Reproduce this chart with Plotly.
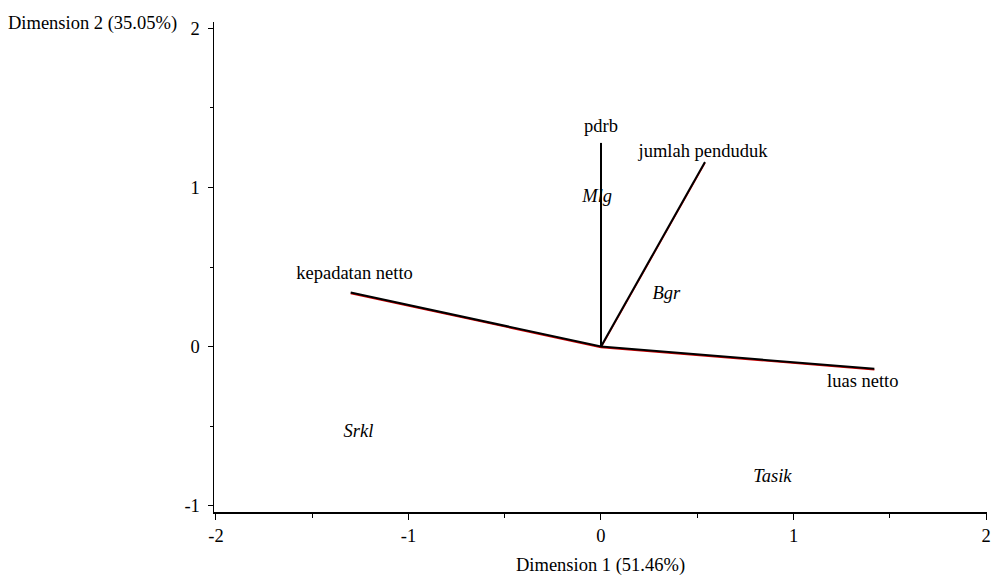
import plotly.graph_objects as go

# Variable vectors (loadings)
var_names = ["pdrb", "jumlah penduduk", "kepadatan netto", "luas netto"]
var_x = [0.0, 0.54, -1.30, 1.42]
var_y = [1.28, 1.16, 0.34, -0.14]

# Observations (cities)
obs_names = ["Mlg", "Bgr", "Srkl", "Tasik"]
obs_x = [-0.02, 0.34, -1.26, 0.89]
obs_y = [0.94, 0.33, -0.54, -0.82]

x_ticks = [-2, -1, 0, 1, 2]
y_ticks = [-1, 0, 1, 2]
x_title = "Dimension 1 (51.46%)"
y_title = "Dimension 2 (35.05%)"

FONT = "Liberation Serif, Times New Roman, serif"
FS = 18.5

fig = go.Figure()

label_pos = ["top center", "top center", "top center", "bottom center"]
label_shift = [(0, 0.04), (-0.01, 0.0), (0.02, 0.057), (-0.06, -0.03)]

for name, vx, vy in zip(var_names, var_x, var_y):
    fig.add_trace(go.Scatter(x=[0, vx], y=[-0.006, vy - 0.006], mode="lines",
                             line=dict(color="#d00000", width=1.5),
                             hoverinfo="skip", showlegend=False))
    fig.add_trace(go.Scatter(x=[0, vx], y=[0, vy], mode="lines",
                             line=dict(color="black", width=2),
                             hoverinfo="skip", showlegend=False))

for name, vx, vy, pos, (dx, dy) in zip(var_names, var_x, var_y, label_pos, label_shift):
    fig.add_trace(go.Scatter(x=[vx + dx], y=[vy + dy], mode="text", text=[name],
                             textposition=pos,
                             textfont=dict(family=FONT, size=FS, color="black"),
                             hoverinfo="skip", showlegend=False))

fig.add_trace(go.Scatter(x=obs_x, y=obs_y, mode="text",
                         text=["<i>%s</i>" % n for n in obs_names],
                         textposition="middle center",
                         textfont=dict(family=FONT, size=FS, color="black"),
                         hoverinfo="skip", showlegend=False))

fig.update_layout(
    width=992, height=577,
    margin=dict(l=214, r=5, t=22, b=65, autoexpand=False),
    paper_bgcolor="white", plot_bgcolor="white",
    font=dict(family=FONT, size=FS, color="black"),
    showlegend=False,
    xaxis=dict(range=[-2.01, 2.005], tickvals=x_ticks, ticktext=[str(v) for v in x_ticks],
               automargin=False,
               showgrid=False, zeroline=False, showline=True, linecolor="black", linewidth=1.5,
               ticks="outside", ticklen=6, tickcolor="black", tickwidth=1,
               minor=dict(dtick=0.5, tick0=0, ticks="outside", ticklen=4, tickcolor="black", showgrid=False),
               tickfont=dict(family=FONT, size=FS)),
    yaxis=dict(range=[-1.04, 2.04], tickvals=y_ticks, ticktext=[str(v) for v in y_ticks],
               automargin=False,
               showgrid=False, zeroline=False, showline=True, linecolor="black", linewidth=1.5,
               ticks="outside", ticklen=5, tickcolor="black", tickwidth=1,
               minor=dict(dtick=0.5, tick0=0, ticks="outside", ticklen=3, tickcolor="black", showgrid=False),
               tickfont=dict(family=FONT, size=FS), ticklabelstandoff=4),
    annotations=[
        dict(text=y_title, xref="paper", yref="paper", x=-208/773, y=1.0, xanchor="left",
             yanchor="middle", yshift=-1, showarrow=False, font=dict(family=FONT, size=FS)),
        dict(text=x_title, xref="x", yref="paper", x=0, y=0, xanchor="center", yanchor="top",
             yshift=-41, showarrow=False, font=dict(family=FONT, size=FS)),
    ],
)

fig.write_html("out.html", config={"displayModeBar": False, "staticPlot": True},
               post_script="document.body.style.margin='0';document.body.style.overflow='hidden';")
